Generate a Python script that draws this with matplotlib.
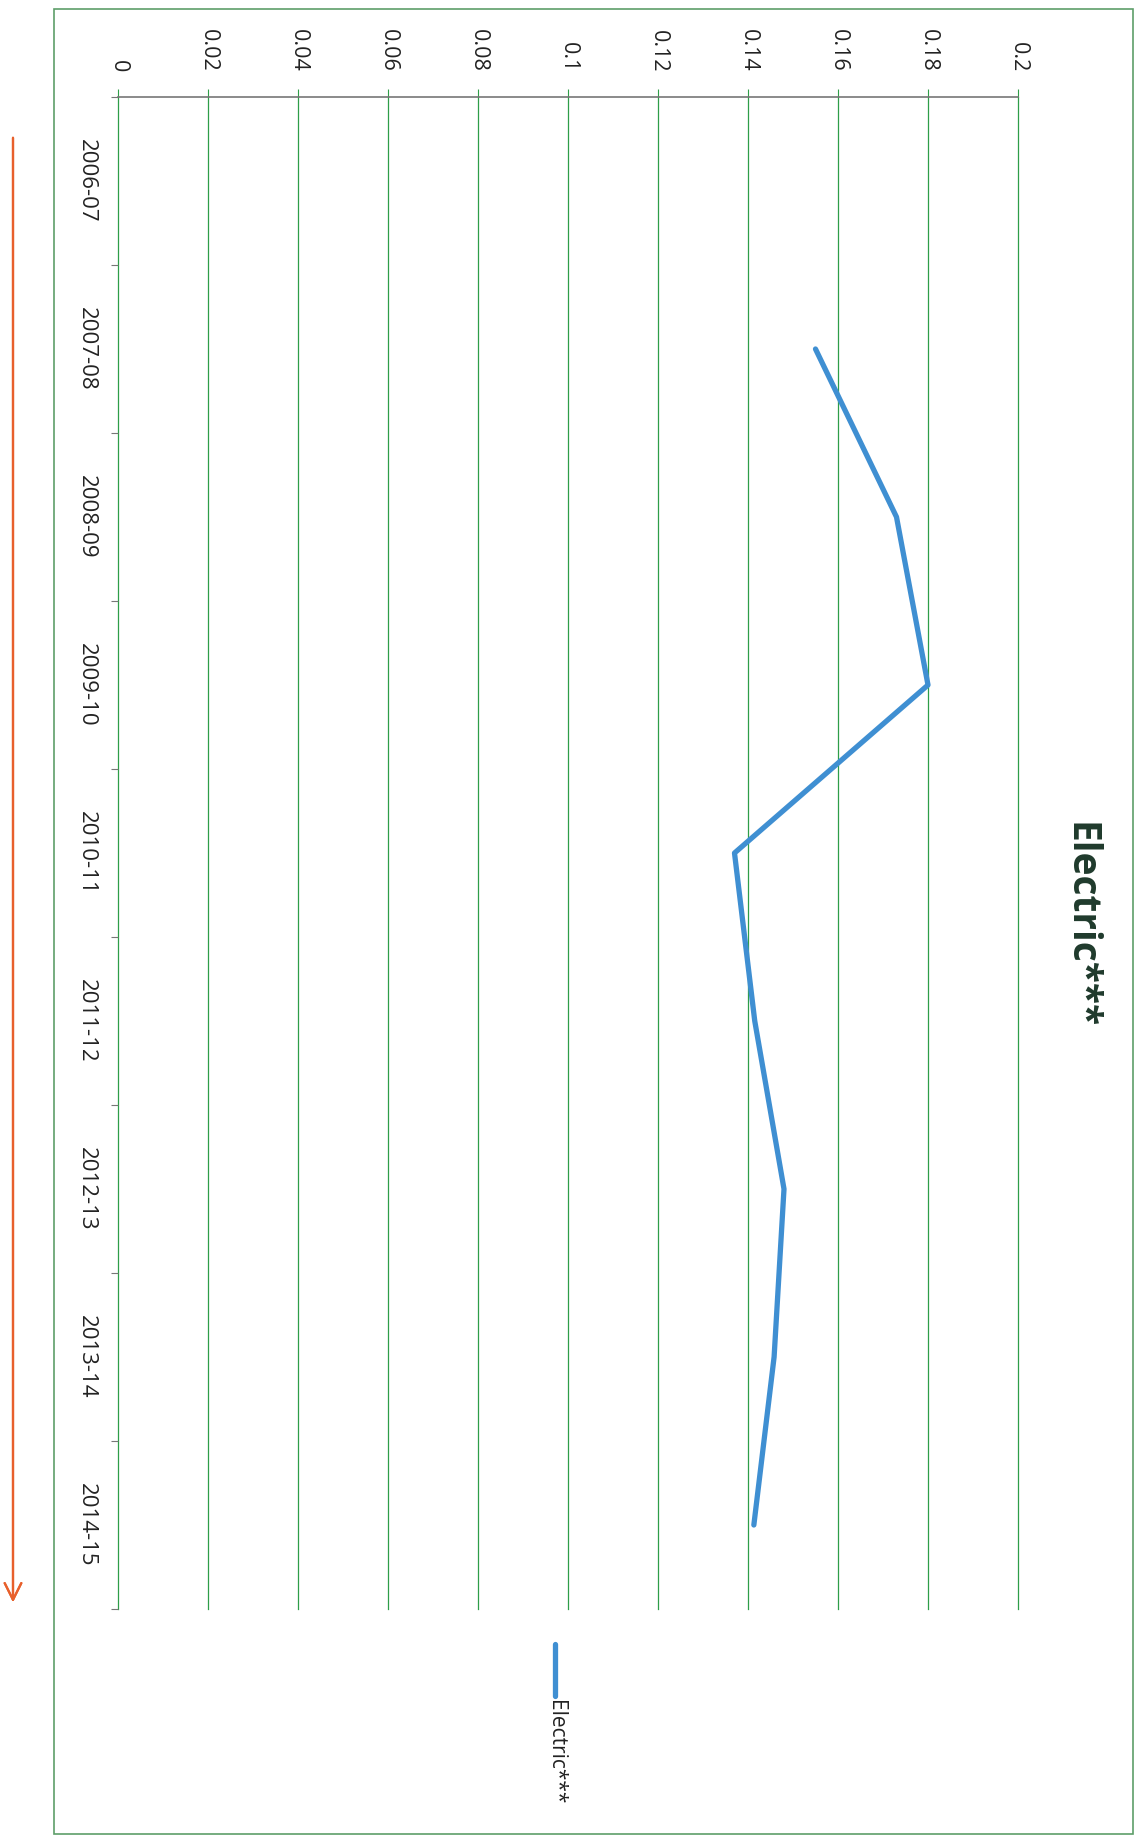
import numpy as np
import matplotlib
matplotlib.use("Agg")
import matplotlib.pyplot as plt
from matplotlib.patches import Rectangle
from matplotlib.lines import Line2D

# yearly figures, first year has no reading
years = ["2006-07", "2007-08", "2008-09", "2009-10", "2010-11",
         "2011-12", "2012-13", "2013-14", "2014-15"]
electric = [np.nan, 0.155, 0.173, 0.180, 0.137, 0.1415, 0.148, 0.1458, 0.1413]
value_ticks = [0, 0.02, 0.04, 0.06, 0.08, 0.1, 0.12, 0.14, 0.16, 0.18, 0.2]
value_labels = ["0", "0.02", "0.04", "0.06", "0.08", "0.1", "0.12",
                "0.14", "0.16", "0.18", "0.2"]

plt.rcParams['font.family'] = ['Open Sans', 'DejaVu Sans']

W, H = 1138, 1839
fig = plt.figure(figsize=(W / 100, H / 100), dpi=100)

def fx(px):
    return px / W

def fy(py):
    return 1 - py / H

grid_green = "#2e9e48"
line_blue = "#3f8fd2"

# chart is laid out sideways: values run left to right, years run downward
ax = fig.add_axes([fx(118), fy(1609), fx(1018) - fx(118), fy(97) - fy(1609)])
pos = np.arange(len(years)) + 0.5
ax.plot(electric, pos, color=line_blue, lw=3.8, solid_capstyle="round",
        solid_joinstyle="round")

ax.set_xlim(0, 0.2)
ax.set_ylim(len(years), 0)

ax.xaxis.tick_top()
ax.set_xticks(value_ticks)
ax.set_xticklabels(value_labels, rotation=-90, fontsize=15.5, color="#222222")
ax.tick_params(axis="x", direction="out", length=6, width=0.8,
               color=grid_green, pad=12)
for lab in ax.get_xticklabels():
    lab.set_va("bottom")
    lab.set_ha("center")
ax.grid(axis="x", color=grid_green, lw=0.9)
for gl in ax.get_xgridlines():
    gl.set_clip_on(False)

ax.set_yticks(np.arange(len(years) + 1))
ax.set_yticklabels([])
ax.set_yticks(pos, minor=True)
ax.set_yticklabels(years, minor=True, rotation=-90, fontsize=16,
                   color="#222222", va="center", ha="center")
ax.tick_params(axis="y", which="major", direction="out", length=5,
               width=0.8, color="#777777")
ax.tick_params(axis="y", which="minor", length=0, pad=23)

for side in ["left", "right", "bottom"]:
    ax.spines[side].set_visible(False)
ax.spines["top"].set_color("#777777")
ax.spines["top"].set_linewidth(1.2)
ax.set_axisbelow(True)

# title and key, turned with the chart
fig.text(fx(1080), fy(925), "Electric***", rotation=-90, fontsize=28,
         fontweight="bold", color="#1f3a2c", ha="center", va="center")
fig.add_artist(Line2D([fx(555), fx(555)], [fy(1644), fy(1696)],
                      color=line_blue, lw=3.8, solid_capstyle="round"))
fig.text(fx(555), fy(1700), "Electric***", rotation=-90, fontsize=15,
         color="#222222", ha="center", va="top")

# outer frame
fig.add_artist(Rectangle((fx(54), fy(1834)), fx(1133) - fx(54),
                         fy(9) - fy(1834), fill=False,
                         edgecolor="#5e9e6a", lw=1.2))

# reading direction arrow
fig.add_artist(plt.annotate("", xy=(fx(13), fy(1605)), xytext=(fx(13), fy(135)),
                            xycoords="figure fraction",
                            arrowprops=dict(arrowstyle="->,head_length=1.2,head_width=0.6",
                                            color="#e8602c", lw=1.6)))

fig.savefig("out.png", dpi=100)
